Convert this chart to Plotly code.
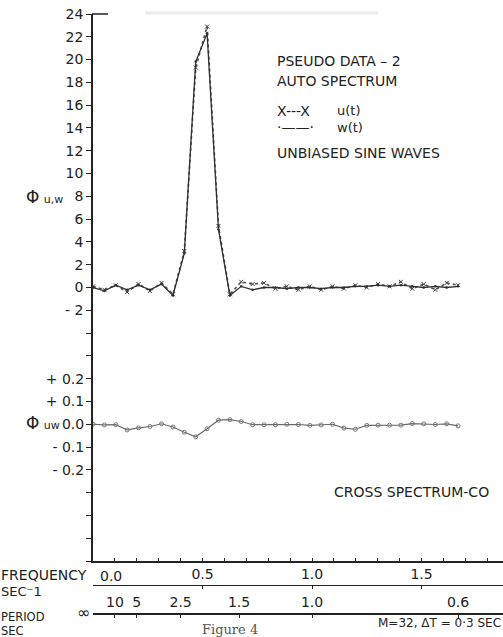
import plotly.graph_objects as go

# ---------------- data ----------------
freq = [0.000, 0.052, 0.104, 0.156, 0.208, 0.260, 0.313, 0.365, 0.417, 0.469,
        0.521, 0.573, 0.625, 0.677, 0.729, 0.781, 0.833, 0.885, 0.938, 0.990,
        1.042, 1.094, 1.146, 1.198, 1.250, 1.302, 1.354, 1.406, 1.458, 1.510,
        1.563, 1.615, 1.667]

u_auto = [0.1, -0.2, 0.2, -0.4, 0.3, -0.3, 0.4, -0.6, 3.2, 19.3,
          22.9, 5.4, -0.6, 0.5, 0.3, 0.4, -0.1, 0.1, -0.2, 0.1,
          -0.2, 0.1, -0.1, 0.2, 0.0, 0.3, 0.1, 0.5, -0.1, 0.3,
          -0.2, 0.4, 0.2]

w_auto = [0.0, -0.3, 0.2, -0.2, 0.2, -0.2, 0.3, -0.7, 3.0, 19.8,
          22.3, 5.1, -0.7, 0.1, -0.2, 0.0, 0.0, -0.1, 0.0, 0.0,
          -0.1, 0.0, 0.0, 0.1, 0.1, 0.2, 0.1, 0.2, 0.1, 0.0,
          0.1, 0.0, 0.1]

uw_cross = [0.000, -0.003, -0.002, -0.025, -0.016, -0.010, 0.002, -0.012, -0.035, -0.055,
            -0.020, 0.018, 0.020, 0.012, -0.002, -0.002, -0.002, 0.000, -0.001, -0.005,
            -0.003, 0.000, -0.017, -0.022, -0.005, -0.004, -0.004, -0.004, 0.003, 0.002,
            -0.001, 0.002, -0.007]

auto_ticks = list(range(-24, 25, 2))
auto_labels = {24: "24", 22: "22", 20: "20", 18: "18", 16: "16", 14: "14", 12: "12",
               10: "10", 8: "8", 6: "6", 4: "4", 2: "2", 0: "0", -2: "- 2"}
cross_ticks = [0.2, 0.1, 0.0, -0.1, -0.2]
cross_labels = ["+ 0.2", "+ 0.1", "0.0", "- 0.1", "- 0.2"]

freq_ticks = [0.5, 1.0, 1.5]
freq_labels = ["0.5", "1.0", "1.5"]
period_ticks = [0.1, 0.2, 0.4, 1 / 1.5, 1.0, 1 / 0.6]
period_labels = ["10", "5", "2.5", "1.5", "1.0", "0.6"]

# ---------------- layout helpers ----------------
W, H = 503, 637
ML, MR, MT, MB = 93, 0, 14, 22
PW, PH = W - ML - MR, H - MT - MB


def X(px):
    return (px - ML) / PW


def Y(py):
    return (H - MB - py) / PH


FONT = "DejaVu Sans"
INK = "#222222"
FS = 14

fig = go.Figure()

fig.add_trace(go.Scatter(
    x=freq, y=u_auto, mode="lines+markers", name="u(t)",
    line=dict(color="#505050", width=1.6, dash="dot"),
    marker=dict(symbol="x-thin", size=4, line=dict(width=1, color="#404040")),
))
fig.add_trace(go.Scatter(
    x=freq, y=w_auto, mode="lines+markers", name="w(t)",
    line=dict(color="#303030", width=1.3),
    marker=dict(symbol="circle", size=2.5, color="#303030"),
))
fig.add_trace(go.Scatter(
    x=freq, y=uw_cross, mode="lines+markers", name="uw", yaxis="y2",
    line=dict(color="#6a6a6a", width=1.2),
    marker=dict(symbol="circle-open", size=4, color="#777777", line=dict(width=1)),
))
# empty helper traces so the extra scale axes are drawn
fig.add_trace(go.Scatter(x=[], y=[], xaxis="x2", yaxis="y", showlegend=False))
fig.add_trace(go.Scatter(x=[], y=[], xaxis="x3", yaxis="y", showlegend=False))

y_bottom = (H - MB - 561) / PH
freq_pos = (H - MB - 585) / PH
xr = [0, PW / 219.0]
tf = dict(family=FONT, size=FS, color=INK)

fig.update_layout(
    width=W, height=H,
    margin=dict(l=ML, r=MR, t=MT, b=MB),
    paper_bgcolor="white", plot_bgcolor="white",
    showlegend=False,
    font=dict(family=FONT, size=FS, color=INK),
    xaxis=dict(range=xr, showline=True, linecolor=INK, linewidth=1.5,
               ticks="inside", ticklen=3, tickcolor=INK, tickvals=[i / 10 for i in range(1, 19)],
               showticklabels=False, showgrid=False, zeroline=False, anchor="y"),
    xaxis2=dict(range=xr, overlaying="x", anchor="free", position=freq_pos, side="top",
                showline=True, linecolor=INK, linewidth=1.4,
                ticks="inside", ticklen=3, tickcolor=INK,
                tickvals=freq_ticks, ticktext=freq_labels, tickfont=tf,
                showgrid=False, zeroline=False),
    xaxis3=dict(range=xr, overlaying="x", anchor="free", position=0.002, side="top",
                showline=True, linecolor=INK, linewidth=1.6,
                ticks="inside", ticklen=3, tickcolor=INK,
                tickvals=period_ticks, ticktext=period_labels, tickfont=tf,
                showgrid=False, zeroline=False),
    yaxis=dict(domain=[y_bottom, 1], range=[-24, 24], showline=True, linecolor=INK, linewidth=1.5,
               ticks="outside", ticklen=5, tickcolor=INK,
               tickvals=auto_ticks, ticktext=[auto_labels.get(v, "") for v in auto_ticks],
               tickfont=tf, showgrid=False, zeroline=False, anchor="x"),
    yaxis2=dict(overlaying="y", anchor="x", side="left", range=[-0.6, 1.8],
                ticks="outside", ticklen=5, tickcolor=INK, showline=False,
                tickvals=cross_ticks, ticktext=cross_labels, tickfont=tf,
                showgrid=False, zeroline=False),
)

# short top border stub and faint scan streak
fig.add_shape(type="line", xref="paper", yref="paper", x0=X(92), x1=X(108), y0=1, y1=1,
              line=dict(color=INK, width=1.5))
fig.add_shape(type="line", xref="paper", yref="paper", x0=X(145), x1=X(378), y0=Y(13), y1=Y(13),
              line=dict(color="#ececec", width=3))


def note(text, px, py, anchor="left", size=FS, family=FONT, color=INK):
    fig.add_annotation(text=text, x=X(px), y=Y(py), xref="paper", yref="paper",
                       xanchor=anchor, yanchor="middle", showarrow=False, borderpad=0,
                       font=dict(family=family, size=size, color=color))


note("PSEUDO DATA – 2", 276, 61)
note("AUTO SPECTRUM", 276, 81)
note("X---X", 276, 111)
note("u(t)", 336, 111, size=13)
note("·——·", 276, 127)
note("w(t)", 336, 127, size=13)
note("UNBIASED SINE WAVES", 276, 153)
note("CROSS SPECTRUM-CO", 333, 492)
note('<span style="font-size:17px">Φ</span> <span style="font-size:11px">u,w</span>', 25, 197)
note('<span style="font-size:17px">Φ</span> <span style="font-size:11px">uw</span>', 25, 423)
note("FREQUENCY", 0, 575)
note("0.0", 99, 576)
note("SEC⁻1", 0, 591, size=13)
note("∞", 91, 612, anchor="right", size=16)
note("PERIOD", 0, 617, size=11.5)
note("SEC", 0, 631, size=11.5)
note("M=32, ΔT = 0·3 SEC", 502, 623, anchor="right", size=12)
note("Figure 4", 230, 629, anchor="center", size=13, family="DejaVu Serif", color="#555555")

fig.write_html("out.html",
               config={"displayModeBar": False},
               post_script="document.body.style.margin='0px';document.body.style.overflow='hidden';")
